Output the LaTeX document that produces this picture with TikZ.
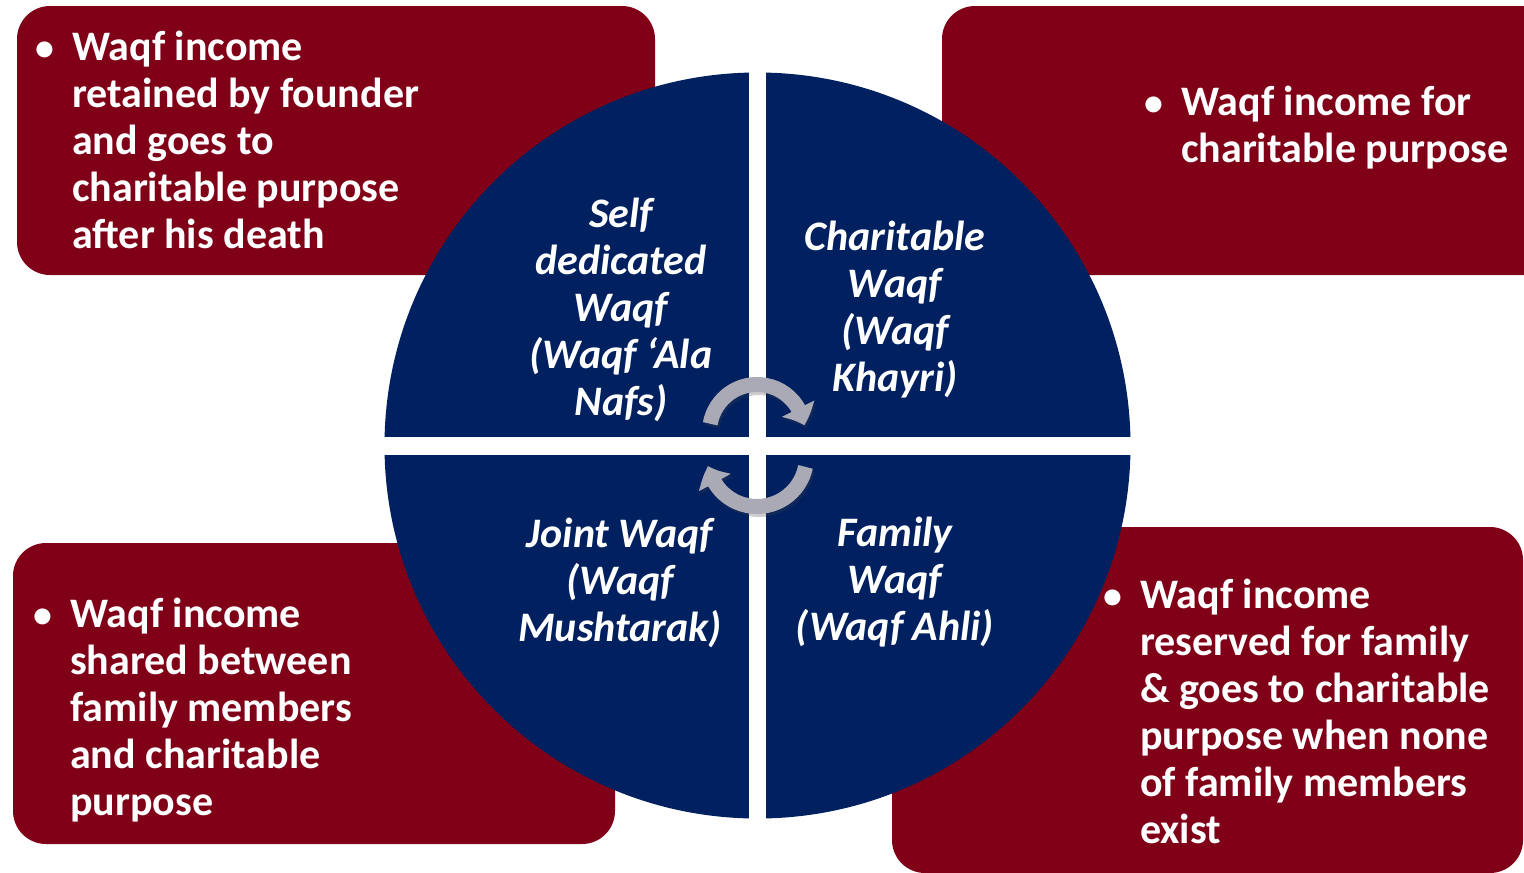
\documentclass[tikz,border=0pt]{standalone}
\usepackage{fontspec}
\setmainfont{Carlito}
\usetikzlibrary{arrows.meta,bending}
\definecolor{boxred}{RGB}{128,0,24}
\definecolor{circblue}{RGB}{0,32,96}
\definecolor{arrowgray}{RGB}{170,170,182}
\definecolor{shadowgray}{RGB}{60,60,70}
\tikzset{
  redbox/.style={rectangle, fill=boxred, draw=none, inner sep=0pt, rounded corners=33pt},
  boxtext/.style={anchor=north west, inner sep=0pt, text=white, font=\fontsize{42}{47}\selectfont\bfseries},
  circtext/.style={anchor=north, inner sep=0pt, text=white, font=\fontsize{42}{47}\selectfont\bfseries\itshape},
  turnarrow/.style={draw=arrowgray, line width=15pt, -{Triangle[length=18pt,width=35pt,bend]}},
  turnshadow/.style={draw=shadowgray, opacity=0.25, line width=15pt, -{Triangle[length=18pt,width=35pt,bend]}},
}
\newcommand{\bulletcell}{\makebox[54pt]{\scalebox{0.9}{•}}}
\begin{document}
\begin{tikzpicture}[x=1pt,y=-1pt]
\useasboundingbox (0,0) rectangle (1524,873);
% red boxes
\node[redbox, minimum width=638pt, minimum height=269pt] (boxTL) at (336,140.5) {};
\node[redbox, minimum width=640pt, minimum height=269pt] (boxTR) at (1262,140.5) {};
\node[redbox, minimum width=602pt, minimum height=301pt] (boxBL) at (314,693.5) {};
\node[redbox, minimum width=631pt, minimum height=346pt] (boxBR) at (1207.5,700) {};
% circle
\node[circle, fill=circblue, draw=none, inner sep=0pt, minimum size=746pt] (wheel) at (757.5,445.5) {};
\begin{scope}
  \clip (wheel.center) circle[radius=374];
  \fill[white] ([xshift=-8.5pt]wheel.north) ++(0,-5) rectangle ([xshift=8.5pt]wheel.south);
  \fill[white] ([yshift=9pt]wheel.west) ++(-5,0) rectangle ([yshift=-9pt,xshift=5pt]wheel.east);
\end{scope}
% box texts
\node[boxtext] (txtTL) at (18,27.1) {\begin{tabular}{@{}l@{}l@{}}\bulletcell & Waqf income\\ & retained by founder\\ & and goes to\\ & charitable purpose\\ & after his death\end{tabular}};
\node[boxtext] (txtTR) at (1127,82.1) {\begin{tabular}{@{}l@{}l@{}}\bulletcell & Waqf income for\\ & charitable purpose\end{tabular}};
\node[boxtext] (txtBL) at (16,594.1) {\begin{tabular}{@{}l@{}l@{}}\bulletcell & Waqf income\\ & shared between\\ & family members\\ & and charitable\\ & purpose\end{tabular}};
\node[boxtext] (txtBR) at (1086,575.1) {\begin{tabular}{@{}l@{}l@{}}\bulletcell & Waqf income\\ & reserved for family\\ & \& goes to charitable\\ & purpose when none\\ & of family members\\ & exist\end{tabular}};
% circle texts
\node[circtext] (qTL) at (621,194.1) {\begin{tabular}{@{}c@{}}Self\\ dedicated\\ Waqf\\ (Waqf ‘Ala\\ Nafs)\end{tabular}};
\node[circtext] (qTR) at (895,217.1) {\begin{tabular}{@{}c@{}}Charitable\\ Waqf\\ (Waqf\\ Khayri)\end{tabular}};
\node[circtext] (qBL) at (620,514.1) {\begin{tabular}{@{}c@{}}Joint Waqf\\ (Waqf\\ Mushtarak)\end{tabular}};
\node[circtext] (qBR) at (895,513.1) {\begin{tabular}{@{}c@{}}Family\\ Waqf\\ (Waqf Ahli)\end{tabular}};
% rotation arrows
\coordinate (rotA) at (757,432);
\coordinate (rotB) at (757,457);
\draw[turnshadow] ([shift={(190:47.5)}]rotA) ++(2,3) arc[start angle=190, end angle=352, radius=47.5];
\draw[turnshadow] ([shift={(11.5:49.5)}]rotB) ++(2,3) arc[start angle=11.5, end angle=169.5, radius=49.5];
\draw[turnarrow] ([shift={(190:47.5)}]rotA) arc[start angle=190, end angle=352, radius=47.5];
\draw[turnarrow] ([shift={(11.5:49.5)}]rotB) arc[start angle=11.5, end angle=169.5, radius=49.5];
\end{tikzpicture}
\end{document}
